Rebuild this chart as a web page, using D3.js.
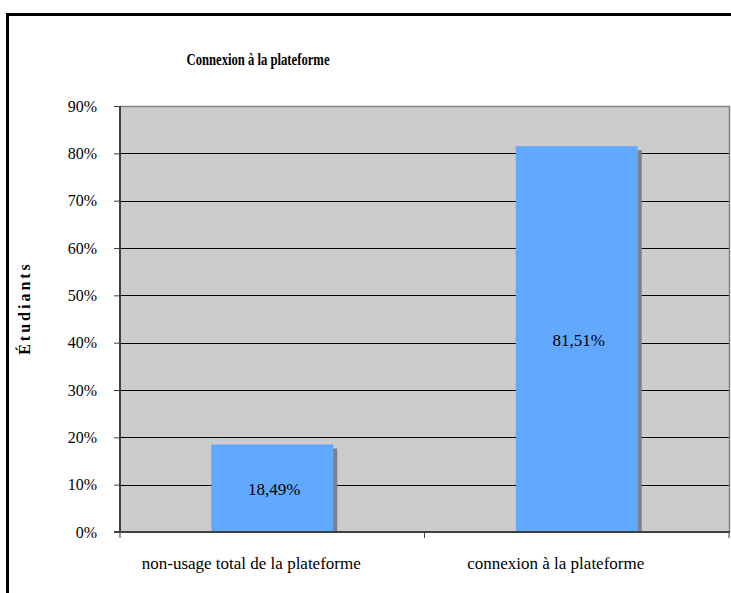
<!DOCTYPE html>
<html><head><meta charset="utf-8">
<script src="https://cdn.jsdelivr.net/npm/d3@7"></script>
<style>body{margin:0;background:#fff}svg{display:block}</style>
</head><body>
<svg id="c" width="731" height="593"></svg>
<script>
const categories = ["non-usage total de la plateforme", "connexion à la plateforme"];
const values = [18.49, 81.51];
const valueLabels = ["18,49%", "81,51%"];
const yTicks = [0, 10, 20, 30, 40, 50, 60, 70, 80, 90];
const title = "Connexion à la plateforme";
const yTitle = "Étudiants";

const svg = d3.select("#c");
const font = "Liberation Serif, Times New Roman, serif";
const m = {left: 120, right: 729, top: 106, bottom: 532};

// outer frame
svg.append("rect").attr("x", 7.5).attr("y", 14.5).attr("width", 760).attr("height", 620)
  .attr("fill", "#fff").attr("stroke", "#000").attr("stroke-width", 3);

const x = d3.scaleBand().domain(categories).range([m.left, m.right]).paddingInner(0).paddingOuter(0);
const y = d3.scaleLinear().domain([0, 90]).range([m.bottom, m.top]);

// plot background
svg.append("rect").attr("x", m.left).attr("y", m.top).attr("width", m.right - m.left).attr("height", m.bottom - m.top)
  .attr("fill", "#cccccc");

// gridlines
svg.append("g").selectAll("line").data(yTicks.filter(t => t > 0 && t < 90)).join("line")
  .attr("x1", m.left).attr("x2", m.right).attr("y1", d => Math.round(y(d)) + 0.5).attr("y2", d => Math.round(y(d)) + 0.5)
  .attr("stroke", "#000").attr("stroke-width", 1);

// plot top/right border
svg.append("path").attr("d", `M${m.left},${m.top + 0.5}H${m.right + 0.5}V${m.bottom}`)
  .attr("fill", "none").attr("stroke", "#808080").attr("stroke-width", 1.5);

// bars
const bw = 122;
const bars = svg.append("g");
bars.selectAll("rect.sh").data(values).join("rect").attr("class", "sh")
  .attr("x", (d, i) => x(categories[i]) + x.bandwidth() / 2 - bw / 2 + 4)
  .attr("y", d => y(d) + 4).attr("width", bw).attr("height", d => m.bottom - y(d) - 4)
  .attr("fill", "#808080");
bars.selectAll("rect.bar").data(values).join("rect").attr("class", "bar")
  .attr("x", (d, i) => x(categories[i]) + x.bandwidth() / 2 - bw / 2)
  .attr("y", d => y(d)).attr("width", bw).attr("height", d => m.bottom - y(d))
  .attr("fill", "#63a8ff");

// value labels
svg.append("g").selectAll("text").data(values).join("text")
  .attr("x", (d, i) => x(categories[i]) + x.bandwidth() / 2 + 2)
  .attr("y", d => (y(d) + m.bottom) / 2 + 7)
  .attr("text-anchor", "middle").style("font-family", font).style("font-size", "17px").attr("fill", "#000")
  .text((d, i) => valueLabels[i]);

// y axis
const yAxis = d3.axisLeft(y).tickValues(yTicks).tickFormat(d => d + "%").tickSize(6).tickPadding(17);
const gy = svg.append("g").attr("transform", `translate(${m.left},0)`).call(yAxis);
gy.attr("font-family", null).attr("font-size", null);
gy.select(".domain").attr("stroke", "#404040").attr("stroke-width", 2).attr("d", `M0,${m.top}V${m.bottom}`);
gy.selectAll(".tick line").attr("stroke", "#404040");
gy.selectAll(".tick text").style("font-family", font).style("font-size", "16px").attr("fill", "#000");

// x axis
const gx = svg.append("g").attr("transform", `translate(0,${m.bottom})`);
gx.append("line").attr("x1", m.left - 6).attr("x2", m.right + 1).attr("y1", 0).attr("y2", 0)
  .attr("stroke", "#404040").attr("stroke-width", 2);
const bounds = [m.left, x(categories[1]), m.right];
gx.selectAll("line.t").data(bounds).join("line").attr("class", "t")
  .attr("x1", d => d).attr("x2", d => d).attr("y1", 0).attr("y2", 6).attr("stroke", "#404040");
gx.selectAll("text").data(categories).join("text")
  .attr("x", d => x(d) + x.bandwidth() / 2 - 21).attr("y", 37)
  .attr("text-anchor", "middle").style("font-family", font).style("font-size", "17px").attr("fill", "#000")
  .text(d => d);

// title
svg.append("text").attr("x", 258).attr("y", 65).attr("text-anchor", "middle")
  .style("font-family", font).style("font-size", "16px").attr("font-weight", "bold")
  .attr("textLength", 143).attr("lengthAdjust", "spacingAndGlyphs").text(title);

// y title
svg.append("text").attr("transform", "translate(30,308) rotate(-90)").attr("text-anchor", "middle")
  .style("font-family", font).style("font-size", "16px").attr("font-weight", "bold").attr("letter-spacing", 3)
  .text(yTitle);
</script>
</body></html>
